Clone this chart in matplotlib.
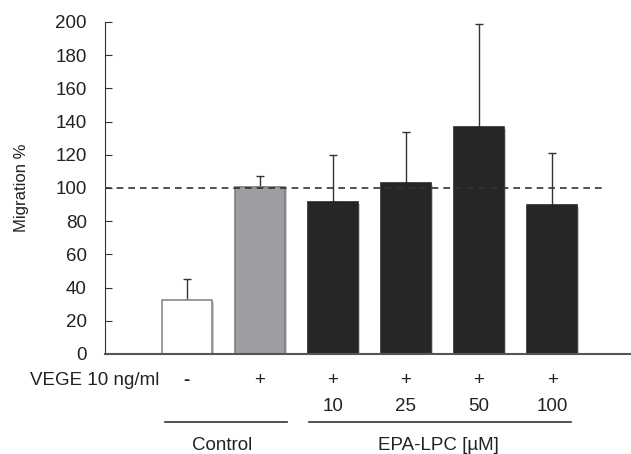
import matplotlib.pyplot as plt
import matplotlib.patheffects as pe

plt.rcParams['font.family'] = ['Liberation Sans', 'DejaVu Sans']

# data
groups = ["ctrl", "vegf", "10", "25", "50", "100"]
migration = [32.5, 100.5, 91.5, 103, 137, 90]
err_top = [45, 107, 120, 134, 199, 121]
vegf_signs = ["-", "+", "+", "+", "+", "+"]
conc_labels = ["", "", "10", "25", "50", "100"]
bar_colors = ["white", "#9d9ea2", "#262626", "#262626", "#262626", "#262626"]
edge_colors = ["#8a8a8a", "#7d7d80", "#262626", "#262626", "#262626", "#262626"]

fig = plt.figure(figsize=(6.31, 4.54), dpi=100)
ax = fig.add_axes([105 / 631, 100 / 454, 526 / 631, 332 / 454])

x = list(range(len(groups)))
errs = [t - m for t, m in zip(err_top, migration)]

shadow = [pe.SimplePatchShadow(offset=(1.5, -1.5), shadow_rgbFace="#999999", alpha=0.5), pe.Normal()]
bars = ax.bar(x, migration, width=0.68, color=bar_colors, edgecolor=edge_colors,
              linewidth=1.2, zorder=3)
for b in bars:
    b.set_path_effects(shadow)

ax.errorbar(x, migration, yerr=[[0] * len(x), errs], fmt="none", ecolor="#333333",
            elinewidth=1.0, capsize=3, capthick=1.0, zorder=2)

ax.hlines(100, -1.12, 5.73, colors="#333333", linestyles=(0, (4, 3)), linewidth=1.2, zorder=4)

ax.set_xlim(-1.12, 6.08)
ax.set_ylim(0, 200)
ax.set_yticks(range(0, 201, 20))
ax.tick_params(axis="y", direction="in", length=5, color="#333333", labelsize=13.5,
               labelcolor="#222222", pad=13)
ax.tick_params(axis="x", bottom=False, labelbottom=False)
for s in ["top", "right"]:
    ax.spines[s].set_visible(False)
ax.spines["left"].set_color("#333333")
ax.spines["bottom"].set_color("#555555")
ax.spines["bottom"].set_linewidth(1.5)
ax.spines["bottom"].set_zorder(5)
ax.set_ylabel("Migration %", fontsize=12, color="#222222")
ax.yaxis.set_label_coords(-0.145, 0.5)

tr = ax.get_xaxis_transform()
fs = 13.5
ax.text(-0.38, -0.081, "VEGE 10 ng/ml", transform=tr, ha="right", va="center",
        fontsize=fs, color="#222222", clip_on=False)
for xi, s, c in zip(x, vegf_signs, conc_labels):
    ax.text(xi, -0.081, s, transform=tr, ha="center", va="center", fontsize=fs,
            color="#222222", fontweight="bold" if s == "-" else "normal")
    if c:
        ax.text(xi, -0.157, c, transform=tr, ha="center", va="center", fontsize=fs,
                color="#222222")

ax.plot([-0.30, 1.37], [-0.205, -0.205], transform=tr, color="#333333", lw=1.2, clip_on=False)
ax.plot([1.67, 5.26], [-0.205, -0.205], transform=tr, color="#333333", lw=1.2, clip_on=False)
ax.text(0.48, -0.275, "Control", transform=tr, ha="center", va="center", fontsize=fs,
        color="#222222")
ax.text(3.45, -0.275, "EPA-LPC [\u00b5M]", transform=tr, ha="center", va="center", fontsize=fs,
        color="#222222")

fig.savefig("out.png", dpi=100)
